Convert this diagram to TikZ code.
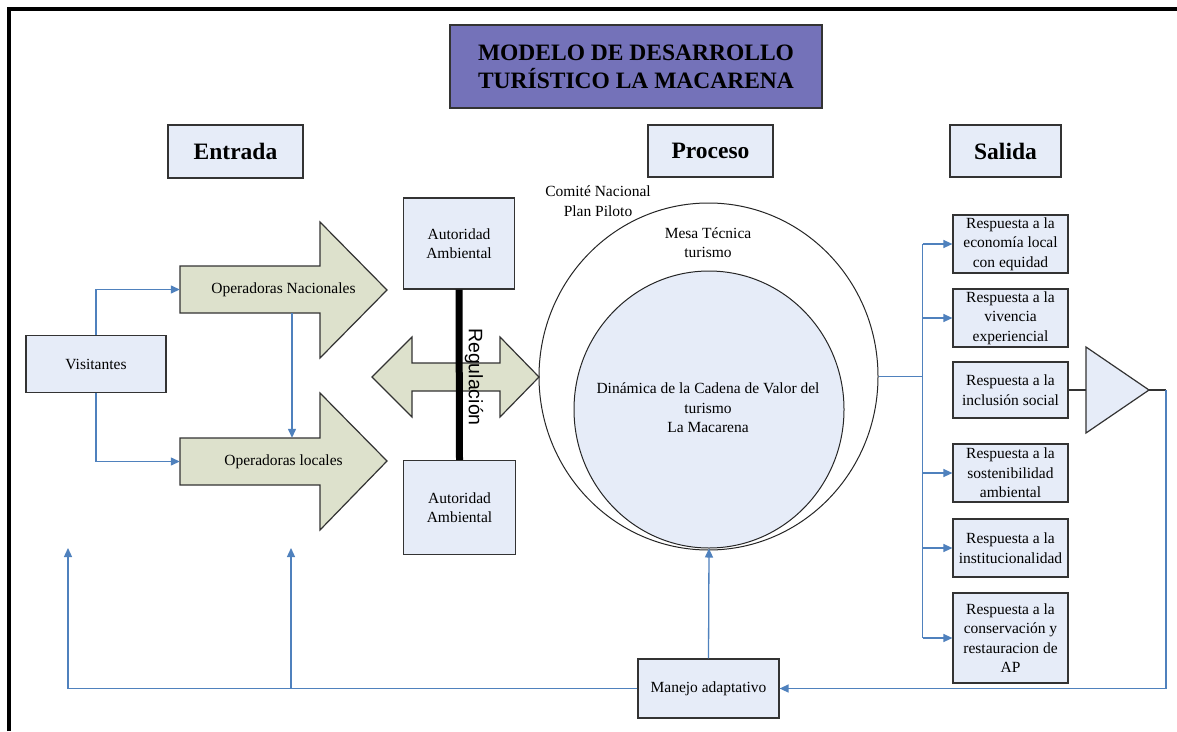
\documentclass[tikz,border=0pt]{standalone}
\usepackage{fontspec}
\setmainfont{Liberation Serif}
\newfontfamily\regfont{Liberation Sans}
\usetikzlibrary{arrows.meta,shapes.geometric,calc}
\definecolor{boxblue}{RGB}{230,236,248}
\definecolor{olivefill}{RGB}{221,225,204}
\definecolor{titlepurple}{RGB}{116,114,185}
\definecolor{linkblue}{RGB}{79,129,189}
\begin{document}
\begin{tikzpicture}[x=1pt,y=-1pt,
  base/.style={font=\fontsize{15.5}{19.5}\selectfont, align=center, inner sep=0pt},
  box/.style={base, draw=black!80, line width=1.2pt, fill=boxblue},
  headbox/.style={box, font=\fontsize{23.5}{28}\selectfont\bfseries},
  resp/.style={box, minimum width=115},
  link/.style={draw=linkblue, line width=1.3pt},
  linkarrow/.style={link, -{Triangle[length=9pt,width=8pt]}},
  bigarrow/.style={draw=black!80, line width=1.2pt, fill=olivefill, line join=miter},
  ring/.style={ellipse, draw=black!85, line width=1pt, inner sep=0pt},
]
\useasboundingbox (0,0) rectangle (1177,731);
\fill[white] (0,0) rectangle (1177,731);
% frame
\draw[line width=4pt, line join=miter] (9,731) -- (9,9) -- (1177,9);

% title and headings
\node[headbox, fill=titlepurple, minimum width=372, minimum height=83] (title) at (636,66.5) {MODELO DE DESARROLLO\\TURÍSTICO LA MACARENA};
\node[headbox, minimum width=135, minimum height=53] (entrada) at (235.5,151.5) {Entrada};
\node[headbox, minimum width=125, minimum height=52] (proceso) at (710.5,151) {Proceso};
\node[headbox, minimum width=111, minimum height=52] (salida) at (1005.5,151) {Salida};

% big arrows
\draw[bigarrow] (180,266) -- (320,266) -- (320,222) -- (387,290) -- (320,358) -- (320,313) -- (180,313) -- cycle;
\draw[bigarrow] (180,438) -- (320,438) -- (320,393) -- (387,461) -- (320,530) -- (320,485) -- (180,485) -- cycle;
\node[base, minimum width=207, minimum height=47] (opn) at (283.5,289.5) {Operadoras Nacionales};
\node[base, minimum width=207, minimum height=47] (opl) at (283.5,461.5) {Operadoras locales};

% visitantes
\node[box, minimum width=140, minimum height=57] (vis) at (96,364) {Visitantes};
\draw[linkarrow] (vis.north) |- (opn.west);
\draw[linkarrow] (vis.south) |- (opl.west);
\draw[linkarrow] ([xshift=8.5pt]opn.south) -- ([xshift=8.5pt]opl.north);

% double arrow
\draw[bigarrow] (372,377) -- (412,337) -- (412,363) -- (500,363) -- (500,337) -- (539,377) -- (500,417) -- (500,391) -- (412,391) -- (412,417) -- cycle;

% autoridad boxes and bar
\node[box, minimum width=111, minimum height=91] (aut1) at (459,243.5) {Autoridad\\Ambiental};
\node[box, minimum width=112, minimum height=94] (aut2) at (459.5,507.5) {Autoridad\\Ambiental};
\draw[line width=7pt] (aut1.south) -- (aut2.north);
\node[rotate=-90, inner sep=0pt, font=\regfont\fontsize{19.5}{22}\selectfont] (reg) at (474,377) {Regulación};

% circles
\node[ring, minimum width=339, minimum height=347] (outer) at (708.5,376.5) {};
\node[ring, fill=boxblue, minimum width=270, minimum height=277] (inner) at (709,409.5) {};
\node[base] (dinamica) at (708,408) {Dinámica de la Cadena de Valor del\\turismo\\La Macarena};
\node[base] (comite) at (598,201) {Comité Nacional\\Plan Piloto};
\node[base] (mesa) at (708,242.5) {Mesa Técnica\\turismo};

% salida boxes
\node[resp, minimum height=58] (r1) at (1010.5,244) {Respuesta a la\\economía local\\con equidad};
\node[resp, minimum height=58] (r2) at (1010.5,318) {Respuesta a la\\vivencia\\experiencial};
\node[resp, minimum height=56] (r3) at (1010.5,390) {Respuesta a la\\inclusión social};
\node[resp, minimum height=58] (r4) at (1010.5,473) {Respuesta a la\\sostenibilidad\\ambiental};
\node[resp, minimum height=58] (r5) at (1010.5,548) {Respuesta a la\\institucionalidad};
\node[resp, minimum height=90] (r6) at (1010.5,638) {Respuesta a la\\conservación y\\restauracion de\\AP};

% bus
\draw[link] (outer.east) -- ++(44,0) coordinate (busj);
\draw[link] (busj |- r1.west) -- (busj |- r6.west);
\foreach \r in {r1,r2,r4,r5,r6} \draw[linkarrow] (busj |- \r.west) -- (\r.west);

% triangle
\coordinate (triL) at (1086,390);
\coordinate (triR) at (1149,390);
\draw[draw=black!80, line width=1.2pt, fill=boxblue, line join=miter] (1086,347) -- (triR) -- (1086,433) -- cycle;
\draw[black!80, line width=1.2pt] (r3.east) -- (triL);
\draw[black!80, line width=1.2pt] (triR) -- ++(17,0) coordinate (fbR);

% manejo adaptativo
\node[box, minimum width=141, minimum height=59] (manejo) at (708.5,688.5) {Manejo adaptativo};
\draw[linkarrow] (fbR) |- (manejo.east);
\draw[linkarrow] (manejo.north) -- (inner.south);
\coordinate (fbL) at (68,548);
\coordinate (fbM) at (291,548);
\draw[linkarrow] (manejo.west) -| (fbL);
\draw[linkarrow] (fbM |- manejo.west) -- (fbM);
\end{tikzpicture}
\end{document}
